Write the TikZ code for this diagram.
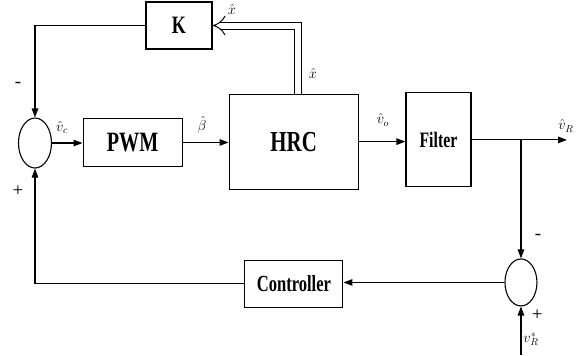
\documentclass[tikz,border=0pt]{standalone}
\usepackage{fontspec}
\setmainfont{Liberation Serif}
\newfontfamily\blockfont{Liberation Serif}[FakeStretch=0.72]
\usetikzlibrary{arrows.meta,positioning,shapes.geometric}

\begin{document}
\begin{tikzpicture}[line width=1.1pt,
              blk/.style={draw,rectangle,inner sep=0,font=\blockfont\bfseries\fontsize{#1}{#1}\selectfont},
              sum/.style={draw,ellipse,inner sep=0,minimum width=33pt,minimum height=50pt},
              lab/.style={font=\fontsize{14}{16}\selectfont,inner sep=0},
              sgn/.style={font=\fontsize{19}{20}\selectfont,inner sep=0},
              arr/.style={-{Triangle[length=9pt,width=6.5pt]}},
              dbl/.style={double,double distance=6pt,line width=1pt,-{Implies[length=8pt,width=17pt]}}]
              \useasboundingbox (0,0) rectangle (20.42,12.477);
              % blocks
              \node[sum] (sumL) at (1.23,7.45) {};
              \node[blk=25,minimum width=66pt,minimum height=47pt] (K) at (6.29,11.58) {K};
              \node[blk=28,minimum width=99pt,minimum height=48pt] (PWM) at (4.66,7.47) {PWM};
              \node[blk=29,minimum width=129pt,minimum height=95pt] (HRC) at (10.32,7.50) {HRC};
              \node[blk=22,minimum width=65pt,minimum height=94pt] (filt) at (15.41,7.56) {Filter};
              \node[sum,minimum width=32pt,minimum height=47pt] (sumR) at (18.31,2.55) {};
              \node[blk=23,minimum width=98pt,minimum height=47pt] (ctrl) at (10.33,2.51) {Controller};
              \coordinate (out) at (19.93,7.56);
              \coordinate (vin) at (18.31,0);
              \coordinate (tap) at ([xshift=4.5pt]HRC.north);
              \coordinate (br) at (sumR.north |- filt.east);
              % connectors
              \draw[arr] (sumL.east) -- (sumL.east -| PWM.west);
              \draw[arr] (PWM.east) -- (PWM.east -| HRC.west);
              \draw[arr] (HRC.east) -- (HRC.east -| filt.west);
              \draw[arr] (filt.east) -- (out);
              \draw[arr] (br) -- (sumR.north);
              \draw[arr] (vin) -- (sumR.south);
              \draw[arr] (sumR.west) -- (sumR.west -| ctrl.east);
              \draw[arr] (ctrl.west) -| (sumL.south);
              \draw[arr] (K.west) -| (sumL.north);
              \draw[dbl] (tap) |- (K.east);
              % labels
              \node[lab] (xk) at (8.15,12.15) {$\hat{x}$};
              \node[lab] (xv) at (11.0,9.91) {$\hat{x}$};
              \node[lab] (vc) at (2.18,8.0) {$\hat{v}_c$};
              \node[lab] (bt) at (7.10,8.1) {$\hat{\beta}$};
              \node[lab] (vo) at (13.46,8.26) {$\hat{v}_o$};
              \node[lab] (vr) at (19.89,8.05) {$\hat{v}_R$};
              \node[lab] (vref) at (18.66,0.56) {$v^{*}_R$};
              \node[sgn] (mL) at (0.63,9.49) {-};
              \node[sgn] (pL) at (0.63,5.76) {+};
              \node[sgn] (mR) at (18.91,4.15) {-};
              \node[sgn] (pR) at (18.88,1.41) {+};
\end{tikzpicture}
\end{document}
